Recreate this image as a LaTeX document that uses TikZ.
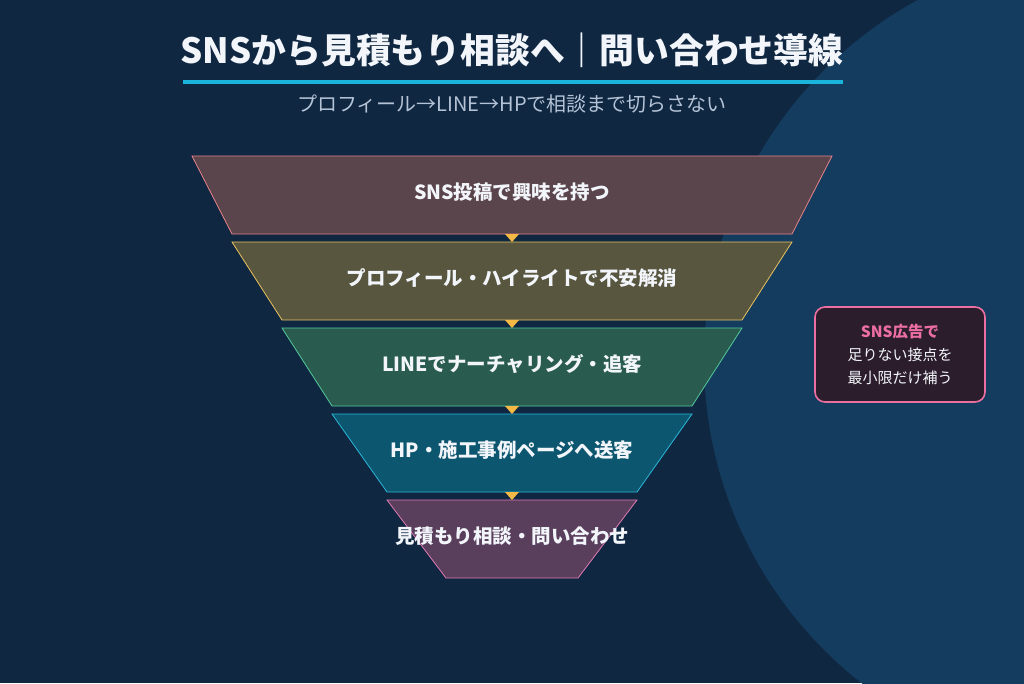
\documentclass[tikz,border=0pt]{standalone}
\usepackage{fontspec}
\setmainfont{Noto Sans CJK JP}
\usetikzlibrary{positioning}
\definecolor{bgnavy}{HTML}{0F2741}
\definecolor{bgcircle}{HTML}{143C5E}
\definecolor{titlewhite}{HTML}{F2F5FA}
\definecolor{ruleblue}{HTML}{1AB4DC}
\definecolor{subgrey}{HTML}{B5C3D6}
\definecolor{l1fill}{HTML}{5B454C}\definecolor{l1line}{HTML}{E8838A}
\definecolor{l2fill}{HTML}{58563F}\definecolor{l2line}{HTML}{E9C25F}
\definecolor{l3fill}{HTML}{295B4F}\definecolor{l3line}{HTML}{55C99A}
\definecolor{l4fill}{HTML}{0D566F}\definecolor{l4line}{HTML}{2AB7D9}
\definecolor{l5fill}{HTML}{5A3F5D}\definecolor{l5line}{HTML}{E07AB4}
\definecolor{markyellow}{HTML}{F4B944}
\definecolor{notepink}{HTML}{EC6FA2}
\definecolor{notefill}{HTML}{2B1D2B}

\begin{document}
\begin{tikzpicture}[x=1pt,y=-1pt,
  layer/.style={font=\bfseries\fontsize{19.5}{22}\selectfont,text=titlewhite},
  stepmark/.style={fill=markyellow},
  note/.style={draw=notepink,line width=1.6pt,fill=notefill,rounded corners=10pt,
    minimum width=170pt,minimum height=95pt,align=center,text=titlewhite,
    font=\fontsize{15}{23}\selectfont}]
\useasboundingbox (0,0) rectangle (1024,683);
\fill[bgnavy] (0,0) rectangle (1024,683);
\begin{scope}
  \clip (0,0) rectangle (1024,683);
  \fill[bgcircle] (1114,360) circle[radius=410];
\end{scope}
% title block
\node[font=\bfseries\fontsize{34.8}{40}\selectfont,text=titlewhite] (title) at (512,50)
  {SNSから見積もり相談へ｜問い合わせ導線};
\draw[ruleblue,line width=4pt] (183,82) -- (843,82);
\node[font=\fontsize{20}{22}\selectfont,text=subgrey] (sub) at (512,104)
  {プロフィール→LINE→HPで相談まで切らさない};
% funnel
\foreach \n/\yt/\wt/\wb/\col/\txt in {
    1/156/640/560/l1/SNS投稿で興味を持つ,
    2/242/560/460/l2/プロフィール・ハイライトで不安解消,
    3/328/460/360/l3/LINEでナーチャリング・追客,
    4/414/360/250/l4/HP・施工事例ページへ送客,
    5/500/250/132/l5/見積もり相談・問い合わせ}{
  \filldraw[fill=\col fill,draw=\col line,line width=0.8pt]
    (512-\wt/2,\yt) -- (512+\wt/2,\yt) -- (512+\wb/2,\yt+78) -- (512-\wb/2,\yt+78) -- cycle;
  \node[layer] (s\n) at (512,\yt+36) {\txt};
}
\foreach \yt in {156,242,328,414}
  \fill[stepmark] (505,\yt+78) -- (519,\yt+78) -- (512,\yt+86) -- cycle;
% side note
\node[note] (ad) at (900,354.5)
  {{\bfseries\color{notepink}\fontsize{15.5}{23}\selectfont SNS広告で}\\足りない接点を\\最小限だけ補う};
\end{tikzpicture}
\end{document}
